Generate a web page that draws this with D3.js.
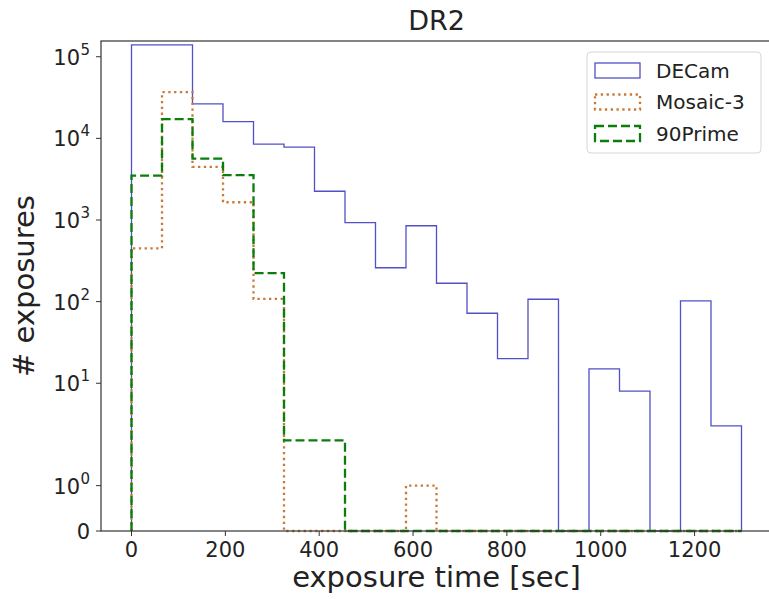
<!DOCTYPE html>
<html>
<head>
<meta charset="utf-8">
<script src="https://cdn.jsdelivr.net/npm/d3@7"></script>
<style>
  body { margin: 0; background: #fff; }
  text { font-family: "DejaVu Sans", sans-serif; fill: #222; }
</style>
</head>
<body>
<script>
// bin edges of the histogram (seconds)
var binEdges = [0, 65, 130, 195, 260, 325, 390, 455, 520, 585, 650,
                715, 780, 845, 910, 975, 1040, 1105, 1170, 1235, 1300];

// counts per bin
var decam   = [140000, 140000, 26500, 16000, 8500, 7800, 2250, 930, 260, 850,
               168, 72, 20, 107, 0, 15, 8, 0, 102, 3];
var mosaic  = [450, 36800, 4480, 1650, 108, 0, 0, 0, 0, 1,
               0, 0, 0, 0, 0, 0, 0, 0, 0, 0];
var prime90 = [3500, 17200, 5660, 3540, 223, 2, 2, 0, 0, 0,
               0, 0, 0, 0, 0, 0, 0, 0, 0, 0];

var seriesNames = ["DECam", "Mosaic-3", "90Prime"];
var xTicks = [0, 200, 400, 600, 800, 1000, 1200];
var yTicks = [0, 1, 10, 100, 1000, 10000, 100000];
var yTickExp = [null, 0, 1, 2, 3, 4, 5];

var svgWidth = 769, svgHeight = 599;
var plotLeft = 101, plotRight = 772, plotTop = 41, plotBottom = 531;

// symmetric log like matplotlib's symlog (linthresh 2, linscale 1)
var linthresh = 2;
var linscaleAdj = 1 / (1 - 1 / 10);
function symT(v) {
    if (v <= linthresh) return linscaleAdj * v / linthresh;
    return linscaleAdj + Math.log10(v / linthresh);
}

var xScale = d3.scaleLinear().domain([-65, 1365]).range([plotLeft, plotRight]);
var yLin = d3.scaleLinear().domain([0, 6.003]).range([plotBottom, plotTop]);
function yScale(v) { return yLin(symT(v)); }

var svg = d3.select("body").append("svg")
    .attr("width", svgWidth)
    .attr("height", svgHeight);

var styles = [
    { color: "#5050c8", width: 1.3, dash: null },
    { color: "#c97a38", width: 2.3, dash: "2.3,3.5" },
    { color: "#0a7d0a", width: 2.3, dash: "9,4" }
];

function stepPoints(counts) {
    var pts = [[binEdges[0], 0]];
    counts.forEach(function(c, i) {
        pts.push([binEdges[i], c]);
        pts.push([binEdges[i + 1], c]);
    });
    pts.push([binEdges[binEdges.length - 1], 0]);
    return pts;
}

var line = d3.line()
    .x(function(d) { return xScale(d[0]); })
    .y(function(d) { return yScale(d[1]); });

var plot = svg.append("g");
[decam, mosaic, prime90].forEach(function(counts, i) {
    plot.append("path")
        .datum(stepPoints(counts))
        .attr("d", line)
        .attr("fill", "none")
        .attr("stroke", styles[i].color)
        .attr("stroke-width", styles[i].width)
        .attr("stroke-dasharray", styles[i].dash);
});

// frame
svg.append("rect")
    .attr("x", plotLeft).attr("y", plotTop)
    .attr("width", plotRight - plotLeft).attr("height", plotBottom - plotTop)
    .attr("fill", "none")
    .attr("stroke", "#333")
    .attr("stroke-width", 1.2);

// x axis
var xAxis = svg.append("g");
xTicks.forEach(function(t) {
    var x = xScale(t);
    xAxis.append("line")
        .attr("x1", x).attr("x2", x)
        .attr("y1", plotBottom).attr("y2", plotBottom + 5)
        .attr("stroke", "#333");
    xAxis.append("text")
        .attr("x", x).attr("y", plotBottom + 26)
        .attr("text-anchor", "middle")
        .style("font-size", "21px")
        .text(t);
});

// y axis with 10^n labels
var yAxis = svg.append("g");
yTicks.forEach(function(t, i) {
    var y = yScale(t);
    yAxis.append("line")
        .attr("x1", plotLeft - 5).attr("x2", plotLeft)
        .attr("y1", y).attr("y2", y)
        .attr("stroke", "#333");
    if (yTickExp[i] === null) {
        yAxis.append("text")
            .attr("x", plotLeft - 11).attr("y", y + 8)
            .attr("text-anchor", "end")
            .style("font-size", "21px")
            .text("0");
    } else {
        yAxis.append("text")
            .attr("x", plotLeft - 21).attr("y", y + 8)
            .attr("text-anchor", "end")
            .style("font-size", "21px")
            .text("10");
        yAxis.append("text")
            .attr("x", plotLeft - 11).attr("y", y - 2)
            .attr("text-anchor", "end")
            .style("font-size", "15px")
            .text(yTickExp[i]);
    }
});

// titles
svg.append("text")
    .attr("x", (plotLeft + plotRight) / 2).attr("y", 30)
    .attr("text-anchor", "middle")
    .style("font-size", "27px")
    .text("DR2");

svg.append("text")
    .attr("x", (plotLeft + plotRight) / 2).attr("y", 587)
    .attr("text-anchor", "middle")
    .style("font-size", "29px")
    .text("exposure time [sec]");

svg.append("text")
    .attr("transform", "translate(34," + ((plotTop + plotBottom) / 2) + ") rotate(-90)")
    .attr("text-anchor", "middle")
    .style("font-size", "29px")
    .text("# exposures");

// legend
var legend = svg.append("g").attr("transform", "translate(587,52)");
legend.append("rect")
    .attr("width", 174).attr("height", 101)
    .attr("rx", 4)
    .attr("fill", "#fff")
    .attr("fill-opacity", 0.8)
    .attr("stroke", "#d6d6d6");

seriesNames.forEach(function(name, i) {
    var cy = 18 + i * 31.5;
    legend.append("rect")
        .attr("x", 8).attr("y", cy - 7)
        .attr("width", 45).attr("height", 15)
        .attr("fill", "none")
        .attr("stroke", styles[i].color)
        .attr("stroke-width", styles[i].width)
        .attr("stroke-dasharray", styles[i].dash);
    legend.append("text")
        .attr("x", 69).attr("y", cy + 7.5)
        .style("font-size", "20px")
        .text(name);
});
</script>
</body>
</html>
